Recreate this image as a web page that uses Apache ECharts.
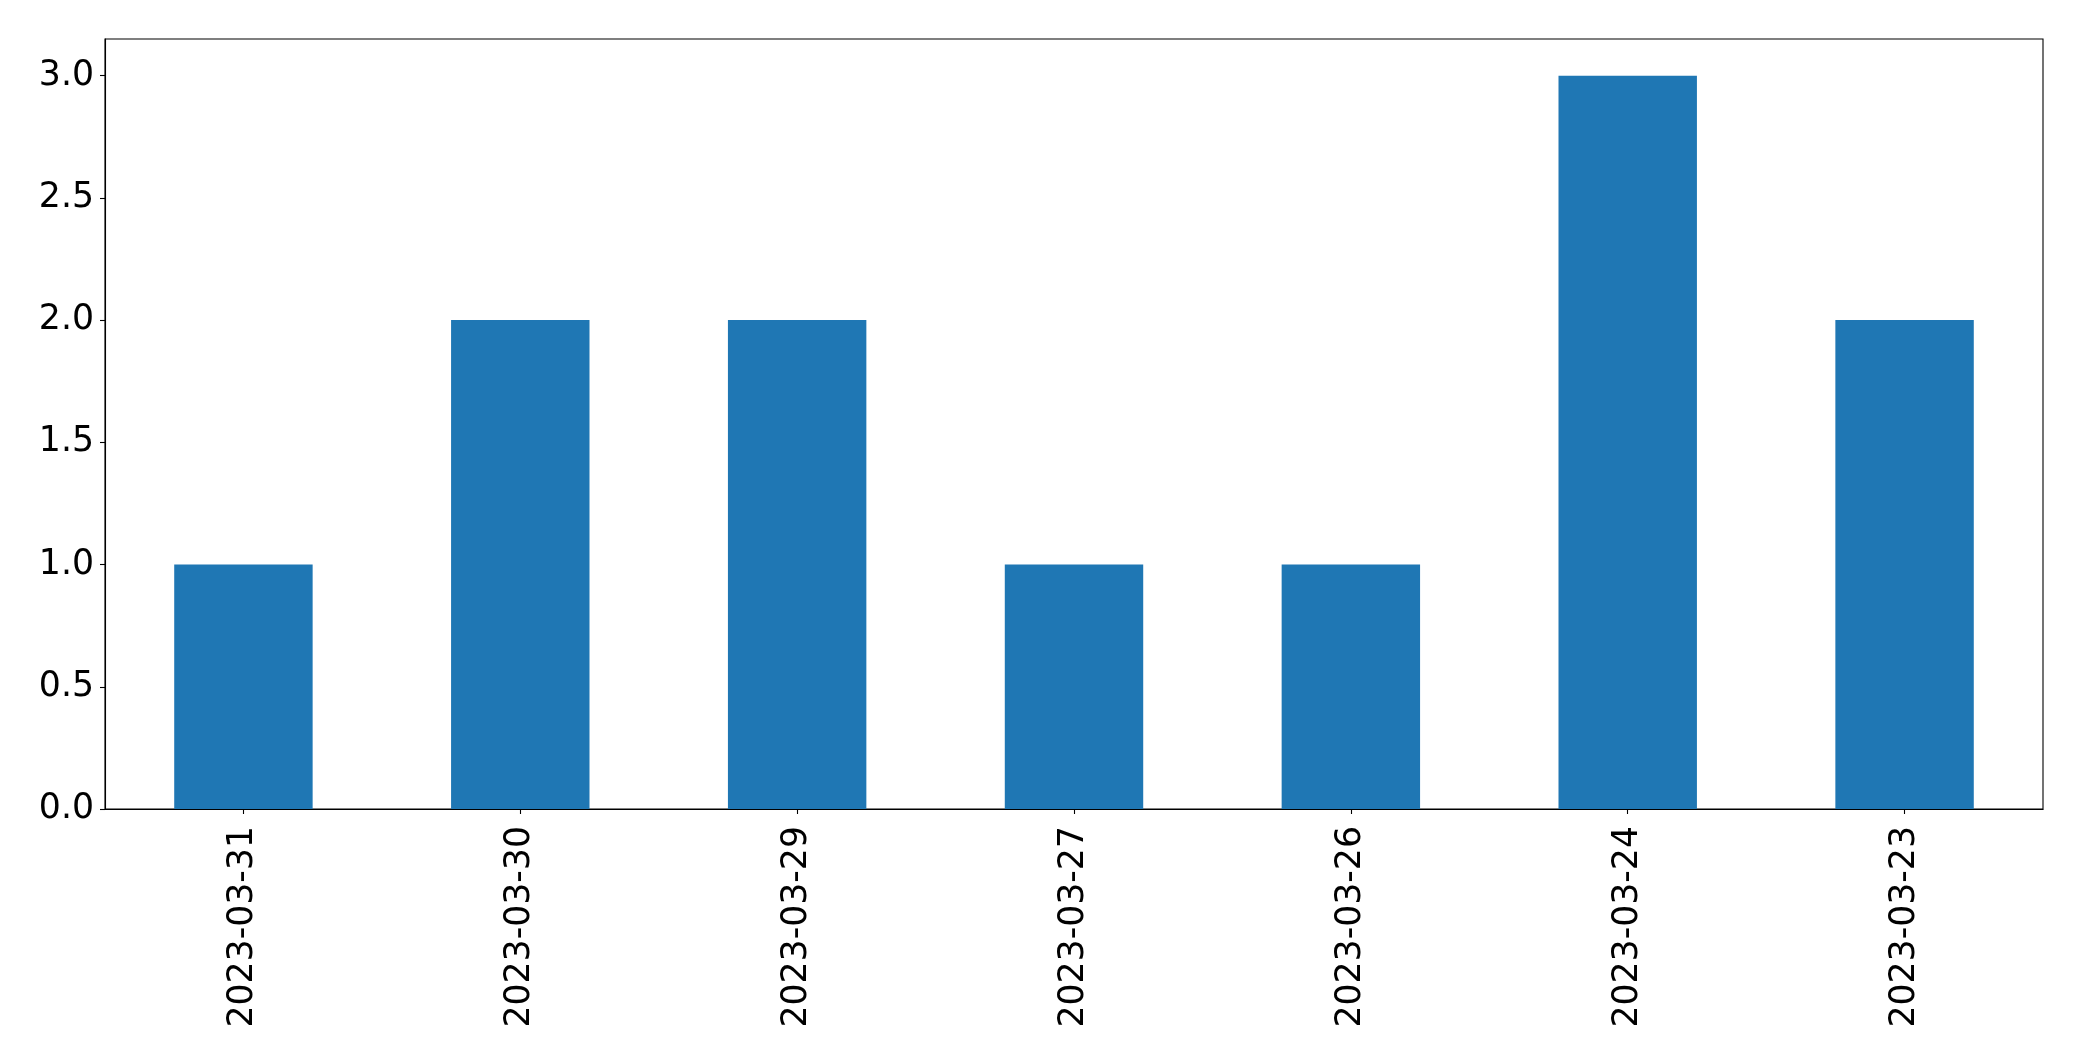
<!DOCTYPE html>
<html>
<head>
<meta charset="utf-8">
<script src="https://cdn.jsdelivr.net/npm/echarts@6/dist/echarts.min.js"></script>
<style>
html,body{margin:0;padding:0;background:#fff;}
#chart{width:2082px;height:1061px;}
</style>
</head>
<body>
<div id="chart"></div>
<script>
const categories = ['2023-03-31','2023-03-30','2023-03-29','2023-03-27','2023-03-26','2023-03-24','2023-03-23'];
const values = [1, 2, 2, 1, 1, 3, 2];
const yTicks = [0, 0.5, 1, 1.5, 2, 2.5, 3];

const chart = echarts.init(document.getElementById('chart'), null, {renderer: 'canvas'});
const font = 'DejaVu Sans';
chart.setOption({
  animation: false,
  backgroundColor: '#ffffff',
  grid: {
    left: 105, right: 39, top: 39, bottom: 252,
    show: true, borderColor: '#000', borderWidth: 1.1, backgroundColor: 'transparent',
    containLabel: false
  },
  xAxis: {
    type: 'category',
    data: categories,
    boundaryGap: true,
    axisLine: {show: true, lineStyle: {color: '#000', width: 1.1}},
    axisTick: {show: true, alignWithLabel: true, length: 5, lineStyle: {color: '#000', width: 1.1}},
    axisLabel: {rotate: 90, margin: 17, fontFamily: font, fontSize: 34.7, color: '#000', interval: 0},
    splitLine: {show: false}
  },
  yAxis: {
    type: 'value',
    min: 0, max: 3.15,
    axisLine: {show: true, lineStyle: {color: '#000', width: 1.1}},
    axisTick: {show: true, length: 5, lineStyle: {color: '#000', width: 1.1}, customValues: yTicks},
    axisLabel: {margin: 11, fontFamily: font, fontSize: 34.7, color: '#000', customValues: yTicks,
      formatter: v => Number(v).toFixed(1)},
    splitLine: {show: false}
  },
  series: [{
    type: 'bar',
    data: values,
    barWidth: '50%',
    itemStyle: {color: '#1f77b4'}
  }]
});
</script>
</body>
</html>
